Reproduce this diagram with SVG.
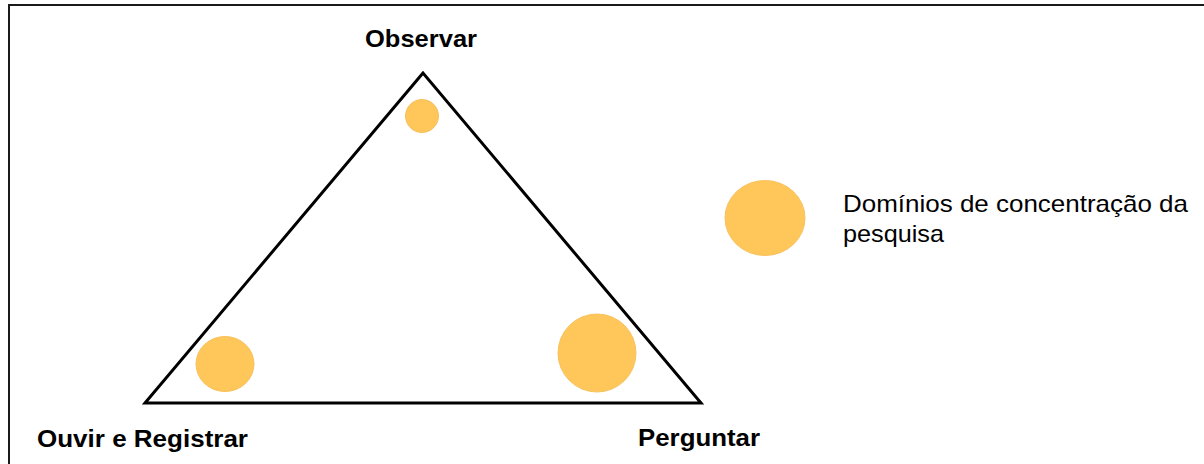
<svg xmlns="http://www.w3.org/2000/svg" width="1204" height="464" viewBox="0 0 1204 464">
  <style>
    .frame { fill: none; stroke: #1a1a1a; stroke-width: 2; }
    .tri { fill: none; stroke: #000; stroke-width: 3; stroke-linejoin: miter; }
    .dom { fill: #FFC65A; stroke: #F7C25E; stroke-width: 1; }
    .lbl { font-family: "Liberation Sans", Arial, sans-serif; font-size: 24px; font-weight: bold; fill: #000; }
    .leg { font-family: "Liberation Sans", Arial, sans-serif; font-size: 24px; fill: #000; }
  </style>
  <rect width="1204" height="464" fill="#fff"/>
  <path class="frame" d="M9,464 V5 H1204"/>
  <g id="triangle">
    <polygon class="tri" points="423,73 145,403 701,403"/>
  </g>
  <g id="observar">
    <circle class="dom" cx="422" cy="116" r="16.5"/>
    <text class="lbl" x="365" y="47" textLength="112" lengthAdjust="spacingAndGlyphs">Observar</text>
  </g>
  <g id="ouvir-registrar">
    <ellipse class="dom" cx="225" cy="364" rx="29" ry="27.5"/>
    <text class="lbl" x="37" y="447" textLength="211" lengthAdjust="spacingAndGlyphs">Ouvir e Registrar</text>
  </g>
  <g id="perguntar">
    <ellipse class="dom" cx="597" cy="353" rx="39" ry="39"/>
    <text class="lbl" x="638" y="446" textLength="122" lengthAdjust="spacingAndGlyphs">Perguntar</text>
  </g>
  <g id="legend">
    <ellipse class="dom" cx="765" cy="218" rx="40" ry="37.5"/>
    <text class="leg" x="843" y="212" textLength="345" lengthAdjust="spacingAndGlyphs">Domínios de concentração da</text>
    <text class="leg" x="843" y="242" textLength="101" lengthAdjust="spacingAndGlyphs">pesquisa</text>
  </g>
  <g id="connectors"></g>
</svg>
